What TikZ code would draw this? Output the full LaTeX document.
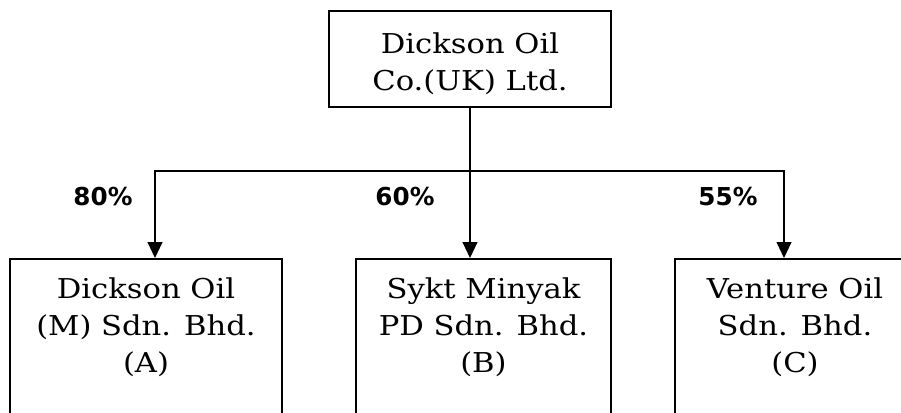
\documentclass[tikz,border=0pt]{standalone}
\usepackage{fontspec}
\setmainfont{DejaVu Serif}[FakeStretch=1.12]
\newfontfamily\pctfont{DejaVu Sans}
\usetikzlibrary{arrows.meta}
\begin{document}
\begin{tikzpicture}[x=0.75pt,y=-0.75pt,
  box/.style={draw, line width=1.4pt, rectangle, inner sep=0pt},
  lbl/.style={font=\fontsize{20.5}{27.75}\selectfont, align=center, inner sep=0pt},
  pct/.style={font=\pctfont\bfseries\fontsize{18.5}{22}\selectfont, inner sep=0pt},
  conn/.style={line width=1.4pt, line cap=rect},
  arr/.style={line width=1.4pt, -{Triangle[length=12pt,width=11pt]}}]
\clip (0,0) rectangle (901,412);
% boxes
\node[box, minimum width=282*0.75pt, minimum height=96*0.75pt] (top) at (470,59) {};
\node[box, minimum width=272*0.75pt, minimum height=171*0.75pt] (A) at (146,344.5) {};
\node[box, minimum width=255*0.75pt, minimum height=171*0.75pt] (B) at (483.5,344.5) {};
\node[box, minimum width=240*0.75pt, minimum height=171*0.75pt] (C) at (795,344.5) {};
% texts
\node[lbl] (topt) at (470,64) {Dickson Oil\\Co.(UK) Ltd.};
\node[lbl] (At) at (146,327.5) {Dickson Oil\\(M) Sdn. Bhd.\\(A)};
\node[lbl] (Bt) at (483.5,327.5) {Sykt Minyak\\PD Sdn. Bhd.\\(B)};
\node[lbl] (Ct) at (795,327.5) {Venture Oil\\Sdn. Bhd.\\(C)};
% percentages
\node[pct] (pA) at (103,197) {80\%};
\node[pct] (pB) at (405,197) {60\%};
\node[pct] (pC) at (728,197) {55\%};
% connectors
\coordinate (j) at (470,171);
\coordinate (jA) at (155,171);
\coordinate (jC) at (784,171);
\draw[conn] (top.south) -- (j);
\draw[conn] (jA) -- (jC);
\draw[arr] (jA) -- (jA |- A.north);
\draw[arr] (j) -- (j |- B.north);
\draw[arr] (jC) -- (jC |- C.north);
\end{tikzpicture}
\end{document}
